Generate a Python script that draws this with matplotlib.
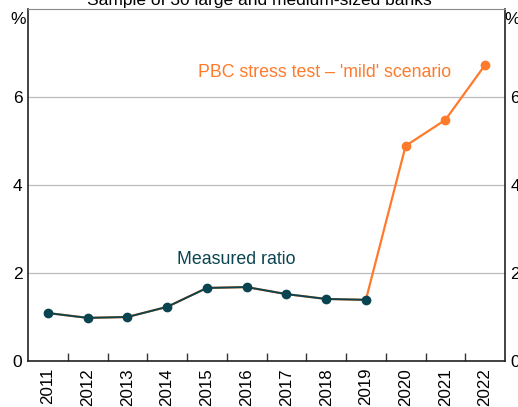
import matplotlib
matplotlib.use("Agg")
import matplotlib.pyplot as plt

years = ["2011", "2012", "2013", "2014", "2015", "2016", "2017", "2018", "2019", "2020", "2021", "2022"]
measured = [1.09, 0.98, 1.0, 1.23, 1.66, 1.68, 1.52, 1.41, 1.39]
stress = [1.09, 0.98, 1.0, 1.23, 1.66, 1.68, 1.52, 1.41, 1.39, 4.89, 5.48, 6.73]
yticks = [0, 2, 4, 6]

plt.rcParams['font.family'] = ['Liberation Sans', 'DejaVu Sans']
dark = '#0A4450'
orange = '#FF7A2A'

fig = plt.figure(figsize=(5.18, 4.07), dpi=100)
ax = fig.add_axes([28/518, 1 - 361/407, 477/518, 352/407])
x = list(range(len(years)))

ax.plot(x, stress, color=orange, lw=1.6, zorder=3)
ax.plot(x[9:], stress[9:], 'o', color=orange, ms=6, zorder=4)
ax.plot(x[:9], measured, '-o', color=dark, lw=1.4, ms=6, zorder=5)

ax.set_xlim(-0.5, 11.5)
ax.set_ylim(0, 8)
ax.set_yticks(yticks)
ax.set_yticklabels([str(v) for v in yticks])
ax.grid(axis='y', color='#BBBBBB', lw=0.9)
ax.set_axisbelow(True)
ax.tick_params(axis='y', length=0, labelsize=12.5, pad=4, labelright=True, right=False)
ax.set_xticks(x)
ax.set_xticklabels(years, rotation=90, fontsize=12.2)
ax.tick_params(axis='x', which='major', length=0, pad=5)
ax.set_xticks([i + 0.5 for i in range(len(years) - 1)], minor=True)
ax.tick_params(axis='x', which='minor', direction='in', length=6, width=1, color='#333333')
for s in ['left', 'right', 'bottom']:
    ax.spines[s].set_color('#222222')
    ax.spines[s].set_linewidth(1.2)
ax.spines['top'].set_color('#888888')
ax.spines['top'].set_linewidth(0.8)

fig.text(18/518, 1 - 20/407, '%', ha='center', va='center', fontsize=12.5)
fig.text(512/518, 1 - 20/407, '%', ha='center', va='center', fontsize=12.5)
fig.text(0.5, 1 - 1/407, 'Sample of 30 large and medium-sized banks', ha='center', va='center', fontsize=12.5)

ax.text(4.73, 2.3, 'Measured ratio', color=dark, fontsize=12.8, ha='center', va='center')
ax.text(6.95, 6.55, "PBC stress test \u2013 'mild' scenario", color=orange, fontsize=12.8, ha='center', va='center')

fig.savefig('out.png', dpi=100)
